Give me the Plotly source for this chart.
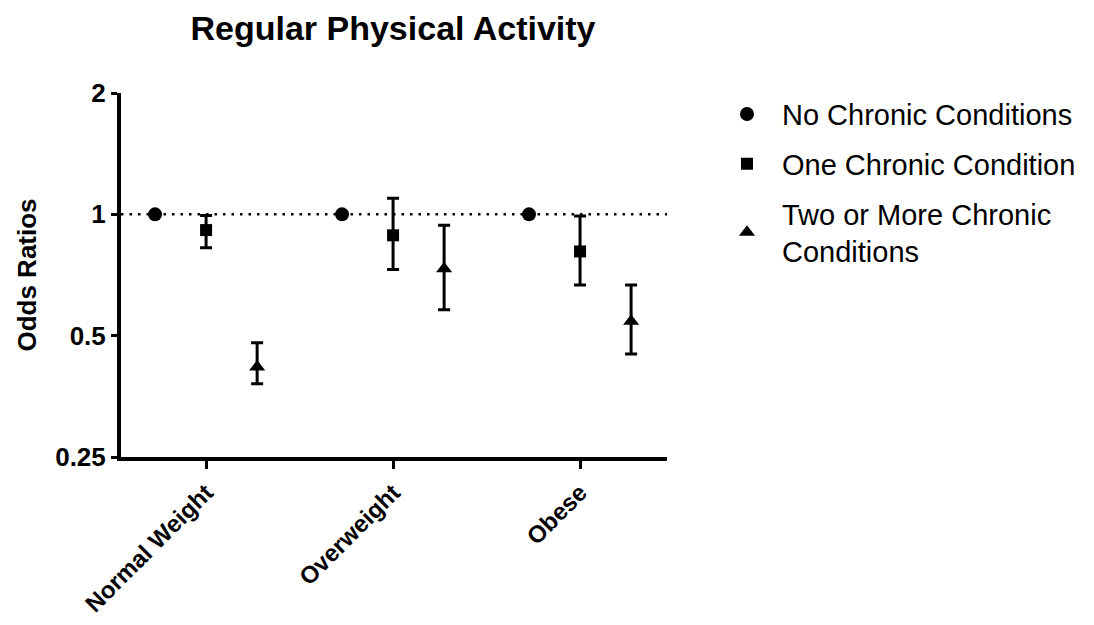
import plotly.graph_objects as go

categories = ["Normal Weight", "Overweight", "Obese"]
legend_labels = ["No Chronic Conditions", "One Chronic Condition", "Two or More Chronic<br>Conditions"]

no_chronic = [1.0, 1.0, 1.0]
one_chronic = [0.914, 0.887, 0.809]
one_upper = [0.994, 1.096, 0.990]
one_lower = [0.826, 0.730, 0.668]
two_chronic = [0.418, 0.733, 0.543]
two_upper = [0.480, 0.939, 0.668]
two_lower = [0.380, 0.580, 0.450]

y_ticks = [0.25, 0.5, 1, 2]
y_tick_labels = ["0.25", "0.5", "1", "2"]

offset = 0.273
xs = list(range(len(categories)))

fig = go.Figure()

fig.add_trace(go.Scatter(
    x=[i - offset for i in xs], y=no_chronic, mode="markers",
    name=legend_labels[0], legendgroup="a",
    marker=dict(symbol="circle", size=14, color="black"),
))
fig.add_trace(go.Scatter(
    x=xs, y=one_chronic, mode="markers",
    name=legend_labels[1], legendgroup="b",
    marker=dict(symbol="square", size=12, color="black"),
    error_y=dict(type="data", symmetric=False,
                 array=[u - c for u, c in zip(one_upper, one_chronic)],
                 arrayminus=[c - l for c, l in zip(one_chronic, one_lower)],
                 color="black", thickness=3, width=6),
))
fig.add_trace(go.Scatter(
    x=[i + offset for i in xs], y=two_chronic, mode="markers",
    name=legend_labels[2], legendgroup="c",
    marker=dict(symbol="triangle-up", size=14, color="black"),
    error_y=dict(type="data", symmetric=False,
                 array=[u - c for u, c in zip(two_upper, two_chronic)],
                 arrayminus=[c - l for c, l in zip(two_chronic, two_lower)],
                 color="black", thickness=3, width=6),
))

fig.add_shape(type="line", xref="paper", yref="y", x0=0, x1=1, y0=1, y1=1,
              line=dict(color="black", width=2.5, dash="2.5px,6px"), layer="below")

fig.update_layout(
    width=1094, height=625,
    margin=dict(l=113, r=435, t=85, b=176),
    paper_bgcolor="white", plot_bgcolor="white",
    font=dict(family="Liberation Sans, Arial, sans-serif", color="black"),
    title=dict(text="<b>Regular Physical Activity</b>", x=385 / 1094, xanchor="center",
               y=1 - 20 / 625, yanchor="middle", font=dict(size=34, color="black")),
    showlegend=True,
    legend=dict(x=1.0824, y=1.012, xanchor="left", yanchor="top",
                font=dict(size=29, color="black"), tracegroupgap=9,
                traceorder="grouped", bgcolor="rgba(0,0,0,0)", itemwidth=60),
    xaxis=dict(
        range=[-0.455, 2.465], tickmode="array", tickvals=xs,
        ticktext=["<b>" + c + "</b>" for c in categories],
        tickangle=-45, showline=True, linecolor="black", linewidth=4,
        ticks="outside", ticklen=8, tickwidth=3, tickcolor="black",
        showgrid=False, zeroline=False, tickfont=dict(size=24, color="black"),
        automargin=False,
    ),
    yaxis=dict(
        type="log", range=[-0.60206, 0.30103],
        tickmode="array", tickvals=y_ticks,
        ticktext=["<b>" + t + "</b>" for t in y_tick_labels],
        showline=True, linecolor="black", linewidth=4,
        ticks="outside", ticklen=6, tickwidth=3, tickcolor="black",
        showgrid=False, zeroline=False, tickfont=dict(size=26, color="black"),
        title=dict(text="<b>Odds Ratios</b>", font=dict(size=26, color="black"), standoff=12),
        automargin=False,
    ),
)

fig.write_html("out.html")
